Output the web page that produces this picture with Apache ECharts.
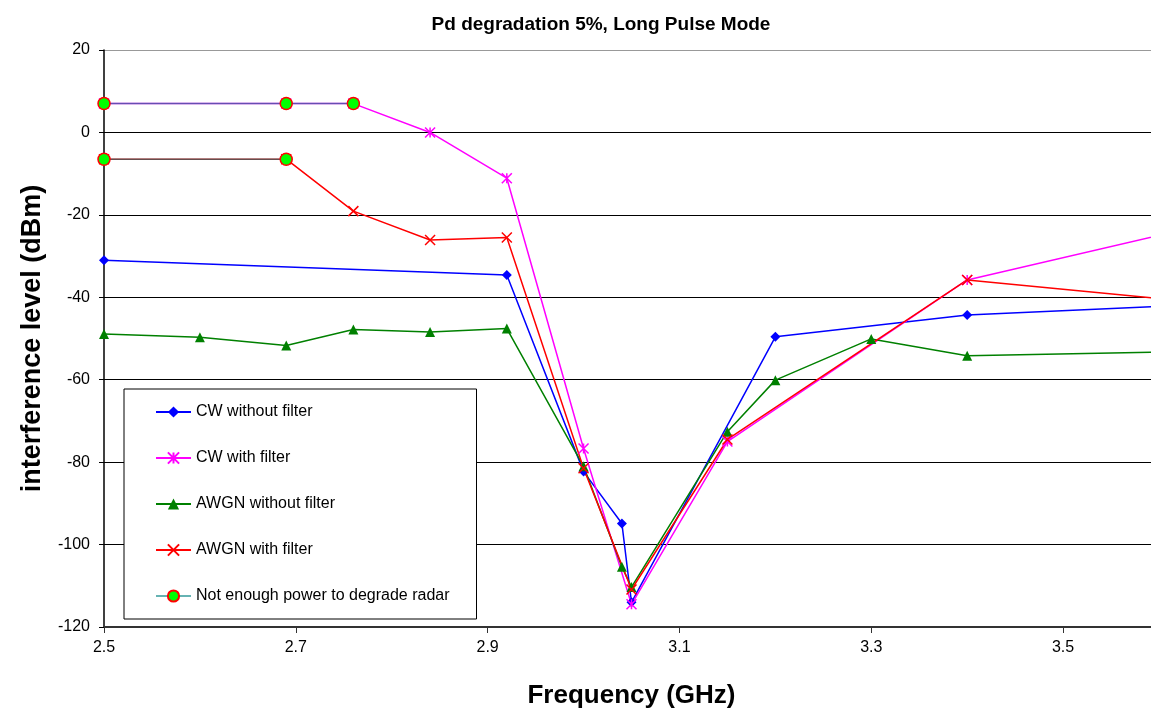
<!DOCTYPE html>
<html>
<head>
<meta charset="utf-8">
<script src="https://cdn.jsdelivr.net/npm/echarts@6/dist/echarts.min.js"></script>
<style>
  html, body { margin: 0; padding: 0; background: #fff; }
  #main { width: 1151px; height: 710px; }
</style>
</head>
<body>
<div id="main"></div>
<script>
// values (GHz, dBm)
var cwNoFilterX = [2.5, 2.92, 3.0, 3.04, 3.05, 3.2, 3.4, 3.6];
var cwNoFilterY = [-31, -34.6, -82.3, -94.9, -114, -49.6, -44.3, -42.2];

var cwFilterX = [2.5, 2.69, 2.76, 2.84, 2.92, 3.0, 3.05, 3.15, 3.4, 3.6];
var cwFilterY = [7, 7, 7, 0, -11.1, -76.7, -114.5, -75, -35.8, -25];

var awgnNoFilterX = [2.5, 2.6, 2.69, 2.76, 2.84, 2.92, 3.0, 3.04, 3.05, 3.15, 3.2, 3.3, 3.4, 3.6];
var awgnNoFilterY = [-48.9, -49.7, -51.7, -47.8, -48.4, -47.6, -81, -105.4, -110.3, -72.6, -60.1, -50.1, -54.2, -53.3];

var awgnFilterX = [2.5, 2.69, 2.76, 2.84, 2.92, 3.0, 3.05, 3.15, 3.4, 3.6];
var awgnFilterY = [-6.5, -6.5, -19.1, -26.1, -25.5, -81.5, -110.9, -74.5, -35.8, -40.3];

// two separate runs, null = break between them
var notEnoughX = [2.5, 2.69, 2.76, null, 2.5, 2.69];
var notEnoughY = [7, 7, 7, null, -6.5, -6.5];

var seriesNames = ['CW without filter', 'CW with filter', 'AWGN without filter', 'AWGN with filter', 'Not enough power to degrade radar'];

function pairs(xs, ys) {
    var out = [];
    for (var i = 0; i < xs.length; i++) {
        if (xs[i] == null) out.push('-');
        else out.push([xs[i], ys[i]]);
    }
    return out;
}

var FONT = 'Liberation Sans, Arial, sans-serif';
var asterisk = 'path://M0,0L10,10M10,0L0,10M5,0L5,10';
var cross = 'path://M0,0L10,10M10,0L0,10';

var myChart = echarts.init(document.getElementById('main'));
myChart.setOption({
    animation: false,
    textStyle: { fontFamily: FONT, color: '#000' },
    title: {
        text: 'Pd degradation 5%, Long Pulse Mode',
        left: 596,
        top: 10,
        textAlign: 'center',
        textStyle: { fontSize: 19, fontWeight: 'bold', color: '#000', fontFamily: FONT }
    },
    legend: {
        orient: 'vertical',
        left: 124,
        top: 389,
        data: seriesNames,
        backgroundColor: '#fff',
        borderColor: '#000',
        borderWidth: 1,
        padding: [15, 27, 15, 31],
        itemGap: 30,
        itemWidth: 35,
        itemHeight: 14,
        textStyle: { fontSize: 16, color: '#000', fontFamily: FONT }
    },
    // plot runs a little past the right edge of the picture (3.6 GHz is cut off)
    grid: { left: 104, top: 50, width: 1055, bottom: 83, outerBoundsMode: 'none' },
    xAxis: {
        type: 'value',
        min: 2.5,
        max: 3.6,
        interval: 0.2,
        name: 'Frequency (GHz)',
        nameLocation: 'middle',
        nameGap: 56,
        nameTextStyle: { fontSize: 26, fontWeight: 'bold', color: '#000' },
        axisLine: { onZero: false, lineStyle: { color: '#333', width: 2 } },
        axisTick: { show: true, length: 6, lineStyle: { color: '#333', width: 1 } },
        axisLabel: { fontSize: 16, color: '#000', margin: 13, showMaxLabel: false, formatter: function (v) { return v.toFixed(1); } },
        splitLine: { show: false }
    },
    yAxis: {
        type: 'value',
        min: -120,
        max: 20,
        interval: 20,
        name: 'interference level (dBm)',
        nameLocation: 'middle',
        nameGap: 58,
        nameTextStyle: { fontSize: 27, fontWeight: 'bold', color: '#000' },
        axisLine: { show: true, lineStyle: { color: '#000', width: 1.5 } },
        axisTick: { show: true, length: 5, lineStyle: { color: '#000' } },
        axisLabel: { fontSize: 16, color: '#000', margin: 14 },
        splitLine: { show: true, lineStyle: { color: ['#000', '#000', '#000', '#000', '#000', '#000', '#000', '#999'], width: 1 } }
    },
    series: [{
        name: seriesNames[0],
        type: 'line',
        data: pairs(cwNoFilterX, cwNoFilterY),
        symbol: 'diamond',
        symbolSize: 10,
        itemStyle: { color: '#0000ff' },
        lineStyle: { color: '#0000ff', width: 1.5 }
    }, {
        name: seriesNames[1],
        type: 'line',
        data: pairs(cwFilterX, cwFilterY),
        symbol: asterisk,
        symbolSize: 10,
        itemStyle: { color: 'rgba(0,0,0,0)', borderColor: '#ff00ff', borderWidth: 1.5 },
        lineStyle: { color: '#ff00ff', width: 1.5 }
    }, {
        name: seriesNames[2],
        type: 'line',
        data: pairs(awgnNoFilterX, awgnNoFilterY),
        symbol: 'triangle',
        symbolSize: 10,
        itemStyle: { color: '#008000' },
        lineStyle: { color: '#008000', width: 1.5 }
    }, {
        name: seriesNames[3],
        type: 'line',
        data: pairs(awgnFilterX, awgnFilterY),
        symbol: cross,
        symbolSize: 10,
        itemStyle: { color: 'rgba(0,0,0,0)', borderColor: '#ff0000', borderWidth: 1.5 },
        lineStyle: { color: '#ff0000', width: 1.5 }
    }, {
        name: seriesNames[4],
        type: 'line',
        data: pairs(notEnoughX, notEnoughY),
        connectNulls: false,
        symbol: 'circle',
        symbolSize: 12,
        itemStyle: { color: '#00ff00', borderColor: '#ff0000', borderWidth: 1.5 },
        lineStyle: { color: '#008080', width: 1.5, opacity: 0.6 }
    }]
});
</script>
</body>
</html>
